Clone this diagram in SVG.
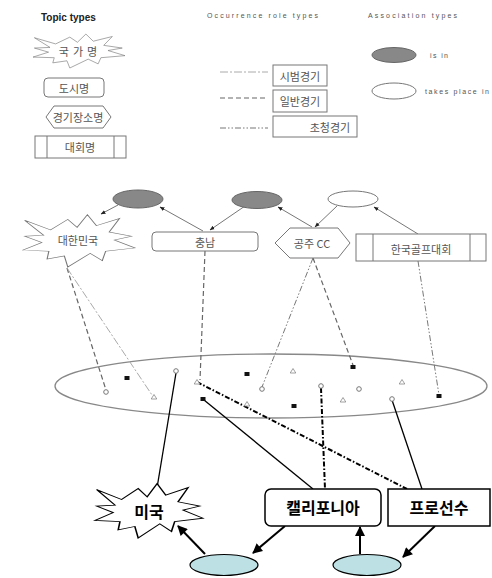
<svg xmlns="http://www.w3.org/2000/svg" xmlns:xlink="http://www.w3.org/1999/xlink" width="492" height="578" viewBox="0 0 492 578">
<style>
.kr{font-family:"Noto Sans CJK KR","Noto Sans",sans-serif;font-size:11px;fill:#555;text-anchor:middle;dominant-baseline:central}
.krb{font-family:"Noto Sans CJK KR","Noto Sans",sans-serif;font-size:16px;font-weight:bold;fill:#000;text-anchor:middle;dominant-baseline:central}
.lat{font-family:"Liberation Sans",Arial,sans-serif;font-size:7px;fill:#555;dominant-baseline:central}
.g{fill:#fff;stroke:#777;stroke-width:1}
.gb{fill:#fff;stroke:#000;stroke-width:1.5}
.star{vector-effect:non-scaling-stroke}
.isin{fill:#888;stroke:#666;stroke-width:1}
.tpi{fill:#fff;stroke:#777;stroke-width:1}
.blue{fill:#bde0e4;stroke:#000;stroke-width:1.2}
.arr{stroke:#777;stroke-width:1;fill:none;marker-end:url(#ah)}
.barr{stroke:#000;stroke-width:2;fill:none;marker-end:url(#ahb)}
.sb{stroke:#aaa;stroke-width:1;fill:none;stroke-dasharray:8,2,2,2}
.ib{stroke:#666;stroke-width:1.2;fill:none;stroke-dasharray:5,3}
.cc{stroke:#777;stroke-width:1;fill:none;stroke-dasharray:6,2,1.5,2,1.5,2}
.solid{stroke:#000;stroke-width:1.3;fill:none}
.dd{stroke:#000;stroke-width:2;fill:none;stroke-dasharray:5,2,1.5,2}
.mc{fill:#fff;stroke:#777;stroke-width:1}
.mt{fill:#fff;stroke:#888;stroke-width:0.8}
.ms{fill:#111}
</style>
<defs>
<marker id="ah" viewBox="0 0 10 10" refX="9" refY="5" markerWidth="5" markerHeight="5" orient="auto" markerUnits="userSpaceOnUse"><path d="M0,1 L10,5 L0,9 Z" fill="#222"/></marker>
<marker id="ahb" viewBox="0 0 10 10" refX="9" refY="5" markerWidth="11" markerHeight="10" orient="auto" markerUnits="userSpaceOnUse"><path d="M0,0 L10,5 L0,10 Z" fill="#000"/></marker>
<path id="starshape" d="M1.5,13.5 L24.6,31.2 L40,11.8 L48.3,26.5 L57.5,3 L65.5,23.5 L86.2,10 L76.9,35.3 L97,43 L81.5,50 L100,64.7 L73.8,70.6 L70.8,88.2 L60,74.7 L40,100 L36.9,79.4 L21.5,85.3 L23.1,70.6 L0,68.8 L16.9,54.7 L1.5,43 L18.5,41.2 Z"/>
<polygon id="tri" points="0,-2.5 2.8,2 -2.8,2"/>
</defs>

<!-- Legend -->
<g id="legend-titles">
<text x="41" y="17" font-family="Liberation Sans,Arial,sans-serif" font-size="10" font-weight="bold" fill="#222" dominant-baseline="central">Topic types</text>
<text class="lat" x="207" y="15" textLength="111" lengthAdjust="spacing">Occurrence role types</text>
<text class="lat" x="368" y="15" textLength="89" lengthAdjust="spacing">Association types</text>
</g>
<g id="leg-country">
<use xlink:href="#starshape" class="g star" transform="translate(33,33) scale(0.92,0.35)"/>
<text class="kr" x="80" y="51" font-size="12" letter-spacing="4">국가명</text>
</g>
<g id="leg-city">
<rect class="g" x="44" y="78" width="60" height="19" rx="4"/>
<text class="kr" x="74" y="88" font-size="12">도시명</text>
</g>
<g id="leg-venue">
<polygon class="g" points="46,117 54,106 103,106 111,117 103,128 54,128"/>
<text class="kr" x="78" y="117" font-size="12">경기장소명</text>
</g>
<g id="leg-event">
<rect class="g" x="35" y="136" width="91" height="22"/>
<line x1="47" y1="136" x2="47" y2="158" stroke="#777"/>
<line x1="114" y1="136" x2="114" y2="158" stroke="#777"/>
<text class="kr" x="80" y="147" font-size="12">대회명</text>
</g>
<g id="leg-exhibition">
<line class="sb" x1="220" y1="72" x2="268" y2="72"/>
<rect class="g" x="273" y="65" width="54" height="21"/>
<text class="kr" x="300" y="76">시범경기</text>
</g>
<g id="leg-regular">
<line class="ib" x1="220" y1="98" x2="268" y2="98"/>
<rect class="g" x="273" y="90" width="54" height="22"/>
<text class="kr" x="300" y="101">일반경기</text>
</g>
<g id="leg-invitational">
<line class="cc" x1="220" y1="128" x2="268" y2="128"/>
<rect class="g" x="273" y="116" width="84" height="21"/>
<text class="kr" x="330" y="127">초청경기</text>
</g>
<g id="leg-isin">
<ellipse class="isin" cx="394" cy="55" rx="22" ry="7.5"/>
<text class="lat" x="430" y="55" textLength="18" lengthAdjust="spacing">is in</text>
</g>
<g id="leg-takesplace">
<ellipse class="tpi" cx="394" cy="91" rx="22" ry="8"/>
<text class="lat" x="425" y="91" textLength="64" lengthAdjust="spacing">takes place in</text>
</g>

<!-- Big scope ellipse -->
<g id="scope">
<ellipse cx="271" cy="386" rx="216" ry="32" fill="none" stroke="#888" stroke-width="1.3"/>
</g>

<!-- Connectors -->
<g id="connectors">
<line class="arr" x1="118" y1="205" x2="101" y2="214"/>
<line class="arr" x1="203" y1="231" x2="160" y2="207"/>
<line class="arr" x1="245" y1="206" x2="210" y2="230"/>
<line class="arr" x1="312" y1="227" x2="278" y2="207"/>
<line class="arr" x1="337" y1="206" x2="315" y2="227"/>
<line class="arr" x1="418" y1="234" x2="374" y2="207"/>

<line class="ib" x1="67" y1="268" x2="106" y2="390"/>
<line class="sb" x1="67" y1="268" x2="152" y2="395"/>
<line class="ib" x1="205" y1="251" x2="200" y2="380"/>
<line class="cc" x1="313" y1="258" x2="262" y2="387"/>
<line class="ib" x1="313" y1="258" x2="353" y2="365"/>
<line class="cc" x1="418" y1="261" x2="439" y2="395"/>

<line class="solid" x1="176" y1="373" x2="157" y2="488"/>
<line class="solid" x1="204" y1="400" x2="313" y2="489"/>
<line class="dd" x1="197" y1="382" x2="407" y2="489"/>
<line class="dd" x1="321" y1="388" x2="325" y2="489"/>
<line class="solid" stroke-width="2" x1="392" y1="400" x2="422" y2="489"/>

<line class="barr" x1="205" y1="554" x2="178" y2="526"/>
<line class="barr" x1="285" y1="526" x2="253" y2="553"/>
<line class="barr" x1="360" y1="554" x2="360" y2="527"/>
<line class="barr" x1="435" y1="526" x2="403" y2="557"/>
</g>

<!-- Occurrence markers -->
<g id="markers">
<rect class="ms" x="124.5" y="376" width="5" height="4"/>
<rect class="ms" x="244.5" y="372" width="5" height="4"/>
<rect class="ms" x="200.5" y="397" width="5" height="4"/>
<rect class="ms" x="350.5" y="365" width="5" height="4"/>
<rect class="ms" x="291.5" y="404" width="5" height="4"/>
<rect class="ms" x="436.5" y="394" width="5" height="4"/>
<circle class="mc" cx="176" cy="371" r="2.3"/>
<circle class="mc" cx="262" cy="389" r="2.3"/>
<circle class="mc" cx="106" cy="392" r="2.3"/>
<circle class="mc" cx="321" cy="386" r="2.3"/>
<circle class="mc" cx="359" cy="389" r="2.3"/>
<circle class="mc" cx="392" cy="399" r="2.3"/>
<use xlink:href="#tri" class="mt" x="197" y="382"/>
<use xlink:href="#tri" class="mt" x="154" y="397"/>
<use xlink:href="#tri" class="mt" x="247" y="404"/>
<use xlink:href="#tri" class="mt" x="293" y="371"/>
<use xlink:href="#tri" class="mt" x="402" y="382"/>
<use xlink:href="#tri" class="mt" x="343" y="400"/>
</g>

<!-- Association nodes -->
<g id="assoc-isin-1"><ellipse class="isin" cx="138" cy="199" rx="25" ry="9"/></g>
<g id="assoc-isin-2"><ellipse class="isin" cx="257" cy="200" rx="25" ry="8.5"/></g>
<g id="assoc-takesplace"><ellipse class="tpi" cx="353" cy="199" rx="25" ry="8"/></g>

<!-- Topic nodes -->
<g id="korea">
<use xlink:href="#starshape" class="g star" transform="translate(23,213) scale(1.12,0.54)"/>
<text class="kr" x="78" y="240">대한민국</text>
</g>
<g id="chungnam">
<rect class="g" x="152" y="232" width="106" height="19" rx="4"/>
<text class="kr" x="205" y="242">충남</text>
</g>
<g id="gongju-cc">
<polygon class="g" points="275,243 290,228 338,228 350,243 338,258 290,258"/>
<text class="kr" x="312" y="243">공주 CC</text>
</g>
<g id="korea-golf">
<rect class="g" x="356" y="234" width="130" height="27"/>
<line x1="373" y1="234" x2="373" y2="261" stroke="#777"/>
<line x1="470" y1="234" x2="470" y2="261" stroke="#777"/>
<text class="kr" x="421" y="249">한국골프대회</text>
</g>

<g id="usa">
<use xlink:href="#starshape" class="gb star" transform="translate(95,482) scale(1.08,0.56)"/>
<text class="krb" x="149" y="511">미국</text>
</g>
<g id="california">
<rect class="gb" x="265" y="489" width="116" height="37" rx="6"/>
<text class="krb" x="323" y="507">캘리포니아</text>
</g>
<g id="pro">
<rect class="gb" x="388" y="489" width="102" height="37"/>
<text class="krb" x="439" y="507">프로선수</text>
</g>
<g id="assoc-bottom-1"><ellipse class="blue" cx="224" cy="565" rx="34" ry="10.5"/></g>
<g id="assoc-bottom-2"><ellipse class="blue" cx="367" cy="565" rx="34" ry="10.5"/></g>
</svg>
